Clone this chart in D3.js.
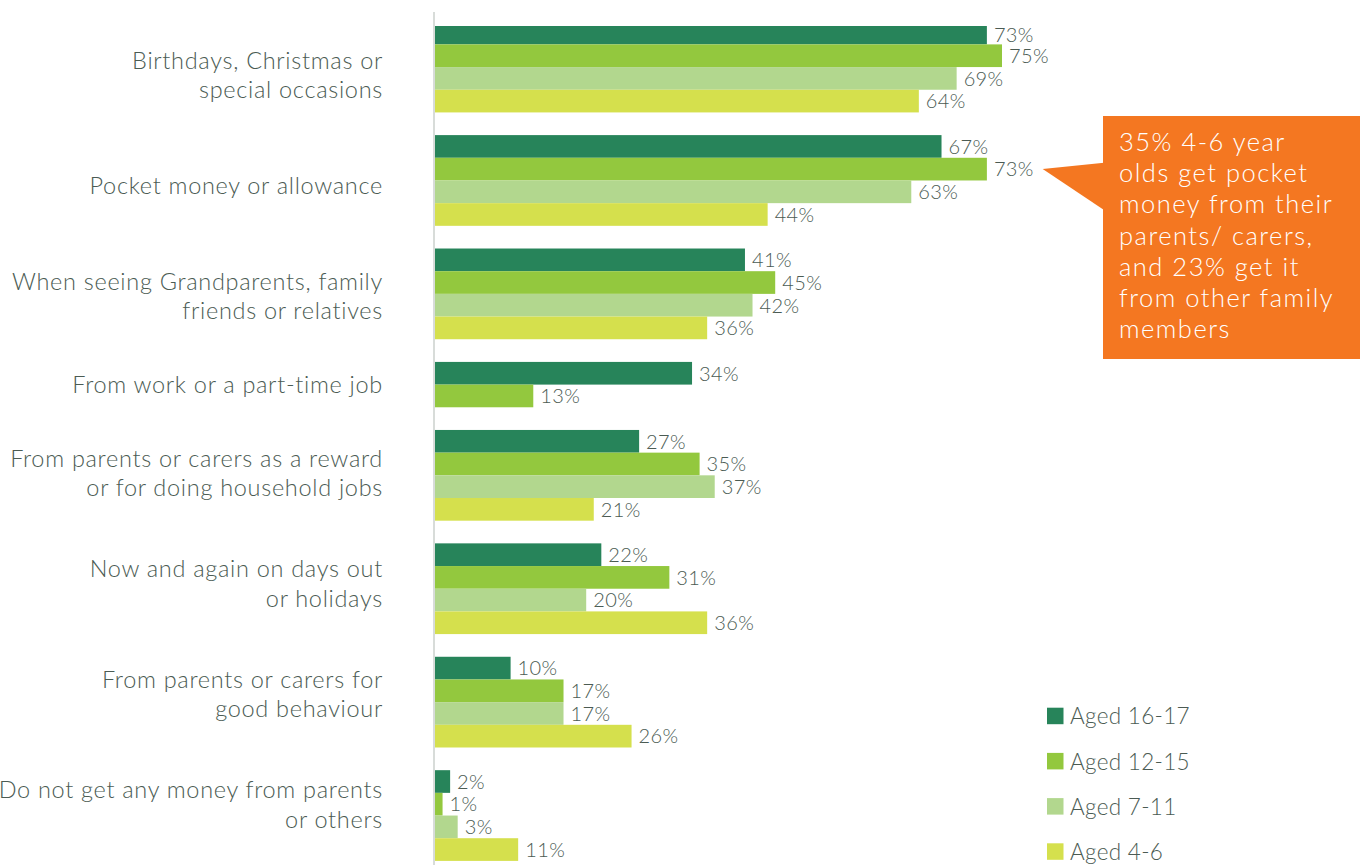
<!DOCTYPE html>
<html>
<head>
<meta charset="utf-8">
<script src="https://cdn.jsdelivr.net/npm/d3@7"></script>
<style>
  html, body { margin: 0; padding: 0; background: #ffffff; }
  svg { display: block; }
  text { font-family: Lato, "Open Sans", sans-serif; font-weight: 300; }
</style>
</head>
<body>
<svg id="chart" width="1366" height="865"></svg>
<script>
// ---------- DATA ----------
const categories = [
  "Birthdays, Christmas or\nspecial occasions",
  "Pocket money or allowance",
  "When seeing Grandparents, family\nfriends or relatives",
  "From work or a part-time job",
  "From parents or carers as a reward\nor for doing household jobs",
  "Now and again on days out\nor holidays",
  "From parents or carers for\ngood behaviour",
  "Do not get any money from parents\nor others"
];
const seriesNames = ["Aged 16-17", "Aged 12-15", "Aged 7-11", "Aged 4-6"];
const aged16to17 = [73, 67, 41, 34, 27, 22, 10, 2];
const aged12to15 = [75, 73, 45, 13, 35, 31, 17, 1];
const aged7to11  = [69, 63, 42, null, 37, 20, 17, 3];
const aged4to6   = [64, 44, 36, null, 21, 36, 26, 11];
const seriesValues = [aged16to17, aged12to15, aged7to11, aged4to6];
const seriesColors = ["#27845a", "#93c83e", "#b2d78e", "#d5e04d"];
const calloutLines = [
  "35% 4-6 year",
  "olds get pocket",
  "money from their",
  "parents/ carers,",
  "and 23% get it",
  "from other family",
  "members"
];

// ---------- LAYOUT ----------
const svg = d3.select("#chart");
const textColor = "#4b5b53";

// build row slots: each present bar takes one unit; one empty unit between categories
const bars = [];
const groups = [];
let u = 0;
categories.forEach((cat, ci) => {
  const start = u;
  seriesValues.forEach((vals, si) => {
    const v = vals[ci];
    if (v !== null && v !== undefined) {
      bars.push({ cat: ci, series: si, value: v, slot: u });
      u += 1;
    }
  });
  groups.push({ cat: ci, start: start, end: u });
  u += 1;
});
const totalUnits = u - 1;

const plotTop = 26;
const y = d3.scaleLinear().domain([0, totalUnits]).range([21.7, 860.9]);
const x = d3.scaleLinear().domain([0, 100]).range([435, 1191]);

// clip for plot area
svg.append("defs").append("clipPath").attr("id", "plotclip")
  .append("rect").attr("x", 0).attr("y", plotTop).attr("width", 1366).attr("height", 865 - plotTop);

// axis line
svg.append("line")
  .attr("x1", 434).attr("x2", 434)
  .attr("y1", 12).attr("y2", 865)
  .attr("stroke", "#d8dcd9").attr("stroke-width", 2);

// bars
svg.append("g").attr("clip-path", "url(#plotclip)")
  .selectAll("rect").data(bars).enter().append("rect")
  .attr("x", x(0))
  .attr("y", d => y(d.slot))
  .attr("width", d => x(d.value) - x(0))
  .attr("height", d => y(d.slot + 1) - y(d.slot))
  .attr("fill", d => seriesColors[d.series]);

// value labels
svg.append("g").selectAll("text").data(bars).enter().append("text")
  .attr("x", d => x(d.value) + 7)
  .attr("y", d => {
    const top = Math.max(y(d.slot), plotTop);
    const bot = y(d.slot + 1);
    return (top + bot) / 2 + 7.3;
  })
  .attr("font-size", 20)
  .attr("letter-spacing", 0.4)
  .attr("fill", textColor)
  .text(d => d.value + "%");

// category labels
const midY = y(groups[3].start + (groups[3].end - groups[3].start) / 2);
const catG = svg.append("g");
groups.forEach(g => {
  const center = (y(g.start) + y(g.end)) / 2;
  const c = midY + (center - midY) * 0.975;
  const lines = categories[g.cat].split("\n");
  const lh = 29.5;
  const t = catG.append("text")
    .attr("text-anchor", "end")
    .attr("font-size", 23.5)
    .attr("letter-spacing", 0.7)
    .attr("fill", textColor);
  lines.forEach((ln, i) => {
    t.append("tspan")
      .attr("x", 383)
      .attr("y", c + 8.3 + (i - (lines.length - 1) / 2) * lh)
      .text(ln);
  });
});

// legend
const legend = svg.append("g");
seriesNames.forEach((name, i) => {
  const cy = 716 + i * 45.2;
  legend.append("rect")
    .attr("x", 1047).attr("y", cy - 8.3)
    .attr("width", 16.5).attr("height", 16.5)
    .attr("fill", seriesColors[i]);
  legend.append("text")
    .attr("x", 1070).attr("y", cy + 8.3)
    .attr("font-size", 22.5)
    .attr("letter-spacing", 0.3)
    .attr("fill", textColor)
    .text(name);
});

// callout
const callout = svg.append("g");
callout.append("rect")
  .attr("x", 1103).attr("y", 116)
  .attr("width", 257).attr("height", 243)
  .attr("fill", "#f47721");
callout.append("polygon")
  .attr("points", "1042.7,169 1104,162.7 1104,210")
  .attr("fill", "#f47721");
const ct = callout.append("text")
  .attr("font-size", 25.5)
  .attr("letter-spacing", 1.5)
  .attr("fill", "#ffffff");
calloutLines.forEach((ln, i) => {
  ct.append("tspan").attr("x", 1119).attr("y", 151 + i * 31.2).text(ln);
});
</script>
</body>
</html>
